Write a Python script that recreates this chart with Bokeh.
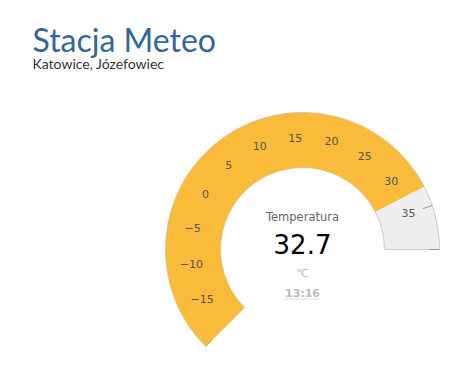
import math
from bokeh.plotting import figure
from bokeh.models import Range1d, ColumnDataSource
from bokeh.core.properties import value
from bokeh.embed import file_html
from bokeh.resources import INLINE

# ---- data ----
title = "Stacja Meteo"
subtitle = "Katowice, Józefowiec"
series_name = "Temperatura"
gauge_min = -20
gauge_max = 40
reading = 32.7
unit = "℃"
time_label = "13:16"
tick_values = [-15, -10, -5, 0, 5, 10, 15, 20, 25, 30, 35]
tick_marks = [-20, -15, -10, -5, 0, 5, 10, 15, 20, 25, 30, 35, 40]

W, H = 451, 367
p = figure(width=W, height=H, output_backend="svg", toolbar_location=None,
           x_range=Range1d(0, W), y_range=Range1d(0, H), min_border=0)
p.axis.visible = False
p.grid.visible = False
p.outline_line_color = None
p.background_fill_color = "white"
p.border_fill_color = "white"

CX, CY = 302, H - 249
R_OUT, R_IN = 137, 82
START_DEG, SWEEP = 225.0, 225.0


def ang(v):
    return math.radians(START_DEG - SWEEP * (v - gauge_min) / (gauge_max - gauge_min))


# background band
p.annular_wedge(x=CX, y=CY, inner_radius=R_IN, outer_radius=R_OUT,
                start_angle=ang(gauge_max), end_angle=ang(gauge_min),
                fill_color="#EEEEEE", line_color="#CCCCCC", line_width=1)

# ticks at outer edge
tx0, ty0, tx1, ty1 = [], [], [], []
for v in tick_marks:
    a = ang(v)
    tx0.append(CX + (R_OUT - 10) * math.cos(a)); ty0.append(CY + (R_OUT - 10) * math.sin(a))
    tx1.append(CX + R_OUT * math.cos(a)); ty1.append(CY + R_OUT * math.sin(a))
p.segment(x0=tx0, y0=ty0, x1=tx1, y1=ty1, line_color="#999999", line_width=1)

# value band
p.annular_wedge(x=CX, y=CY, inner_radius=R_IN, outer_radius=R_OUT,
                start_angle=ang(reading), end_angle=ang(gauge_min),
                fill_color="#FABA3A", line_color=None)

# tick labels
R_LAB = 112
lx = [CX + R_LAB * math.cos(ang(v)) for v in tick_values]
ly = [CY + R_LAB * math.sin(ang(v)) for v in tick_values]
labs = [str(v).replace("-", "\u2212") for v in tick_values]
p.text(x=lx, y=ly, text=labs, text_align="center", text_baseline="middle",
       text_font=value("DejaVu Sans"), text_font_size="11px", text_color="#555555")

# title/subtitle
p.text(x=[32], y=[H - 38.5], text=[title], text_font=value("Lato"),
       text_font_size="32px", text_color="#33669A", text_baseline="alphabetic")
p.text(x=[32], y=[H - 63.3], text=[subtitle], text_font=value("Lato"),
       text_font_size="14px", text_color="#333333", text_baseline="alphabetic")

# center labels
p.text(x=[CX], y=[H - 216.5], text=[series_name], text_align="center", text_baseline="middle",
       text_font=value("DejaVu Sans"), text_font_size="11.5px", text_color="#666666")
p.text(x=[CX], y=[H - 243], text=[f"{reading}"], text_align="center", text_baseline="middle",
       text_font=value("DejaVu Sans"), text_font_size="26px", text_color="#000000")
p.text(x=[CX], y=[H - 273], text=[unit], text_align="center", text_baseline="middle",
       text_font=value("DejaVu Sans"), text_font_size="11px", text_color="#BBBBBB")
p.text(x=[CX], y=[H - 293], text=[time_label], text_align="center", text_baseline="middle",
       text_font=value("DejaVu Sans"), text_font_size="11px", text_font_style="bold",
       text_color="#BBBBBB")
p.segment(x0=[CX - 17], y0=[H - 298.5], x1=[CX + 17], y1=[H - 298.5],
          line_color="#BBBBBB", line_width=1, line_dash="1 1")

open("out.html", "w").write(file_html(p, INLINE))
